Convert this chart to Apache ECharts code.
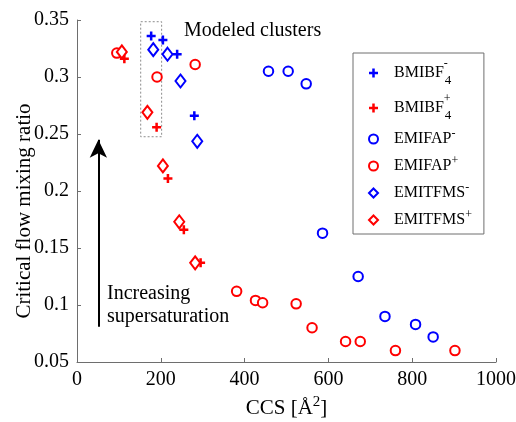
<!DOCTYPE html>
<html>
<head>
<meta charset="utf-8">
<script src="https://cdn.jsdelivr.net/npm/echarts@6/dist/echarts.min.js"></script>
<style>html,body{margin:0;padding:0;background:#fff}#c{width:516px;height:422px}</style>
</head>
<body>
<div id="c"></div>
<script>
// ---- data (CCS in Å², critical flow mixing ratio) ----
const bmibfNegX = [177, 205, 239, 280];
const bmibfNegY = [0.336, 0.3325, 0.320, 0.266];
const bmibfPosX = [113, 190, 217, 255, 295];
const bmibfPosY = [0.316, 0.256, 0.211, 0.166, 0.137];
const emifapNegX = [457, 504, 547, 586, 671, 735, 808, 850];
const emifapNegY = [0.305, 0.305, 0.294, 0.163, 0.125, 0.090, 0.083, 0.072];
const emifapPosX = [95, 191, 282, 381, 426, 443, 523, 561, 641, 676, 760, 902];
const emifapPosY = [0.321, 0.300, 0.311, 0.112, 0.104, 0.102, 0.101, 0.080, 0.068, 0.068, 0.060, 0.060];
const emitfmsNegX = [182, 216, 247, 287];
const emitfmsNegY = [0.324, 0.320, 0.2965, 0.2436];
const emitfmsPosX = [107, 168, 205, 244, 282];
const emitfmsPosY = [0.322, 0.269, 0.222, 0.173, 0.137];
const seriesNames = ['BMIBF4-', 'BMIBF4+', 'EMIFAP-', 'EMIFAP+', 'EMITFMS-', 'EMITFMS+'];
const xTicks = [0, 200, 400, 600, 800, 1000];
const yTicks = [0.05, 0.1, 0.15, 0.2, 0.25, 0.3, 0.35];
// annotations
const clusterBoxX = [152, 202];
const clusterBoxY = [0.2476, 0.3485];
const arrowX = 51;
const arrowY = [0.081, 0.245];

const zip = (xs, ys) => xs.map((x, i) => [x, ys[i]]);
const FONT = 'Liberation Serif';
const BLUE = '#0000ff', RED = '#ff0000';
const plusPath = 'path://M3.6,0H6.4V3.6H10V6.4H6.4V10H3.6V6.4H0V3.6H3.6Z';

function mk(name, xs, ys, color, kind) {
  const s = { name, type: 'scatter', data: zip(xs, ys), z: 3 };
  if (kind === 'plus') {
    s.symbol = plusPath; s.symbolSize = 9;
    s.itemStyle = { color: color, opacity: 1 };
  } else if (kind === 'circle') {
    s.symbol = 'emptyCircle'; s.symbolSize = 9.5;
    s.itemStyle = { color: color, borderColor: color, borderWidth: 2, opacity: 1 };
  } else {
    s.symbol = 'emptyDiamond'; s.symbolSize = [10, 13];
    s.itemStyle = { color: color, borderColor: color, borderWidth: 2, opacity: 1 };
  }
  return s;
}

const legendLabels = {
  'BMIBF4-': '{n|BMIBF}{sup|-}{sub|4}',
  'BMIBF4+': '{n|BMIBF}{sup|+}{sub|4}',
  'EMIFAP-': '{n|EMIFAP}{sup1|-}',
  'EMIFAP+': '{n|EMIFAP}{sup1|+}',
  'EMITFMS-': '{n|EMITFMS}{sup1|-}',
  'EMITFMS+': '{n|EMITFMS}{sup1|+}'
};

const chart = echarts.init(document.getElementById('c'), null, { renderer: 'canvas' });
chart.setOption({
  animation: false,
  backgroundColor: '#fff',
  textStyle: { fontFamily: FONT, color: '#000' },
  grid: { left: 77, right: 20, top: 20, bottom: 60, containLabel: false, outerBoundsMode: 'none' },
  xAxis: {
    type: 'value', min: xTicks[0], max: xTicks[xTicks.length - 1], interval: 200,
    name: '{n|CCS [Å}{s|2}{n|]}', nameLocation: 'middle', nameGap: 33,
    nameTextStyle: { rich: { n: { fontFamily: FONT, fontSize: 21, color: '#000' }, s: { fontFamily: FONT, fontSize: 15, color: '#000', padding: [0, 0, 12, 0] } } },
    axisLine: { show: true, lineStyle: { color: '#6e6e6e', width: 1 } },
    axisTick: { show: true, inside: true, length: 4, lineStyle: { color: '#6e6e6e' } },
    axisLabel: { fontFamily: FONT, fontSize: 20, color: '#000', margin: 8, formatter: v => String(v) },
    splitLine: { show: false }
  },
  yAxis: {
    type: 'value', min: yTicks[0], max: yTicks[yTicks.length - 1], interval: 0.05,
    name: 'Critical flow mixing ratio', nameLocation: 'middle', nameGap: 42, nameMoveOverlap: false,
    nameTextStyle: { fontFamily: FONT, fontSize: 21, color: '#000', padding: [0, 40, 0, 0] },
    axisLine: { show: true, lineStyle: { color: '#6e6e6e', width: 1 } },
    axisTick: { show: true, inside: true, length: 4, lineStyle: { color: '#6e6e6e' } },
    axisLabel: { fontFamily: FONT, fontSize: 20, color: '#000', margin: 8,
      formatter: v => String(Math.round(v * 100) / 100) },
    splitLine: { show: false }
  },
  legend: {
    orient: 'vertical', left: 353, top: 53,
    data: seriesNames,
    backgroundColor: '#fff', borderColor: '#6e6e6e', borderWidth: 1,
    padding: [5, 12, 3, 15], itemGap: 5,
    itemWidth: 9, itemHeight: 9,
    formatter: name => legendLabels[name],
    textStyle: {
      fontFamily: FONT, color: '#000',
      rich: {
        n: { fontFamily: FONT, fontSize: 16, lineHeight: 18, color: '#000', padding: [0, 0, 0, 11] },
        sup: { fontFamily: FONT, fontSize: 12, lineHeight: 12, width: 1, padding: [0, 0, 18, 0], color: '#000' },
        sub: { fontFamily: FONT, fontSize: 13, lineHeight: 13, padding: [16, 0, 0, 0], color: '#000' },
        sup1: { fontFamily: FONT, fontSize: 12, lineHeight: 12, padding: [0, 0, 10, 0], color: '#000' }
      }
    }
  },
  series: [
    mk(seriesNames[0], bmibfNegX, bmibfNegY, BLUE, 'plus'),
    mk(seriesNames[1], bmibfPosX, bmibfPosY, RED, 'plus'),
    mk(seriesNames[2], emifapNegX, emifapNegY, BLUE, 'circle'),
    mk(seriesNames[3], emifapPosX, emifapPosY, RED, 'circle'),
    mk(seriesNames[4], emitfmsNegX, emitfmsNegY, BLUE, 'diamond'),
    mk(seriesNames[5], emitfmsPosX, emitfmsPosY, RED, 'diamond'),
    {
      name: 'annotations', type: 'scatter', data: [], silent: true, z: 1,
      markArea: {
        silent: true,
        itemStyle: { color: 'rgba(0,0,0,0)', borderColor: '#8c8c8c', borderWidth: 1, borderType: [2, 2] },
        data: [[{ coord: [clusterBoxX[0], clusterBoxY[1]] }, { coord: [clusterBoxX[1], clusterBoxY[0]] }]]
      },
      markLine: {
        silent: true, symbol: ['none', 'arrow'], symbolSize: [13, 18],
        label: { show: false },
        lineStyle: { color: '#000', width: 2, type: 'solid' },
        data: [[{ coord: [arrowX, arrowY[0]] }, { coord: [arrowX, arrowY[1]] }]]
      }
    }
  ],
  graphic: [
    { type: 'text', left: 184, top: 21, style: { text: 'Modeled clusters', fontFamily: FONT, fontSize: 20, fill: '#000' } },
    { type: 'text', left: 107, top: 282, style: { text: 'Increasing\nsupersaturation', fontFamily: FONT, fontSize: 20, lineHeight: 23, fill: '#000' } }
  ]
});
</script>
</body>
</html>
